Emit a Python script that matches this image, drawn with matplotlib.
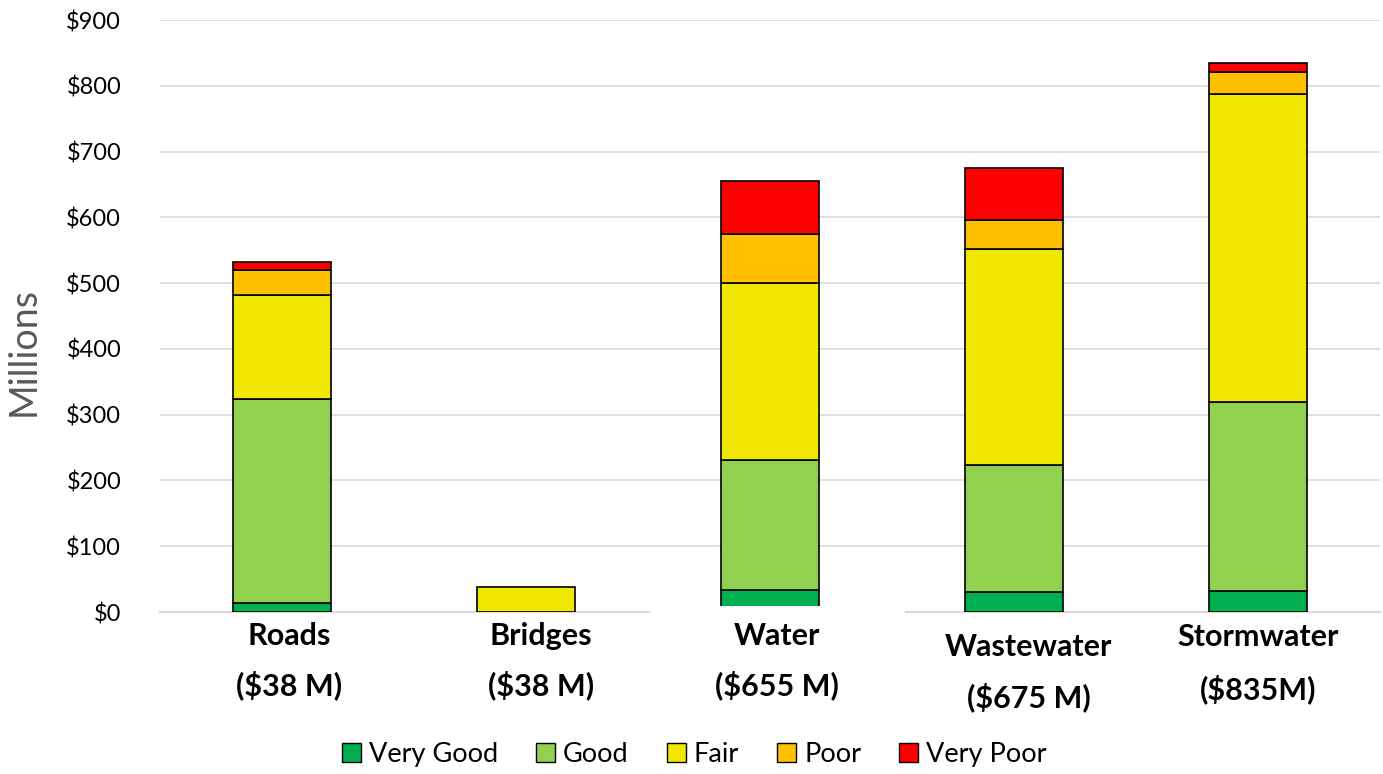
import numpy as np
import matplotlib.pyplot as plt
from matplotlib.patches import Patch, Rectangle

# asset classes and their condition breakdown ($ millions)
assets = ['Roads', 'Bridges', 'Water', 'Wastewater', 'Stormwater']
totals = ['($38 M)', '($38 M)', '($655 M)', '($675 M)', '($835M)']
conditions = ['Very Good', 'Good', 'Fair', 'Poor', 'Very Poor']

very_good = [14, 0, 33, 30, 32]
good = [310, 0, 198, 193, 287]
fair = [158, 38, 269, 329, 469]
poor = [38, 0, 74, 44, 33]
very_poor = [12, 0, 81, 79, 14]

colors = ['#00B050', '#92D050', '#F0E800', '#FFC000', '#FF0000']

plt.rcParams['font.family'] = ['Lato', 'DejaVu Sans']

fig = plt.figure(figsize=(13.83, 7.74), dpi=100)
ax = fig.add_axes([160 / 1383, 162 / 774, 1220 / 1383, 592 / 774])

x = np.arange(len(assets))
bottom = np.zeros(len(assets))
for vals, col in zip([very_good, good, fair, poor, very_poor], colors):
    vals = np.array(vals, dtype=float)
    mask = vals > 0
    ax.bar(x[mask], vals[mask], width=0.4, bottom=bottom[mask], color=col,
           edgecolor='black', linewidth=1.2, zorder=3)
    bottom += vals

ax.set_xlim(-0.5, 4.5)
ax.set_ylim(0, 900)
ax.set_yticks(np.arange(0, 901, 100))
ax.set_yticklabels([f'${v}' for v in range(0, 901, 100)], fontsize=17)
ax.tick_params(axis='y', length=0, pad=28)
ax.tick_params(axis='x', length=0, labelbottom=False)
ax.grid(axis='y', color='#D9D9D9', linewidth=1.2, zorder=0)
for side in ['left', 'right', 'top']:
    ax.spines[side].set_visible(False)
ax.spines['bottom'].set_color('#D9D9D9')
ax.spines['bottom'].set_linewidth(1.5)

ax.set_ylabel('Millions', fontsize=27, color='#595959')
ax.yaxis.set_label_coords(-0.097, 0.44)

# white backing behind the Water label (hides the baseline there)
ax.add_patch(Rectangle((1.508, -60), 1.045, 69, facecolor='white',
                       edgecolor='none', zorder=4, clip_on=False))

# two-line category labels below the axis
label_dx = [0.03, 0.06, 0.03, 0.06, 0.0]
line1_y = [-37, -37, -37, -53, -38]
line2_y = [-111, -111, -111, -130, -118]
for i, (name, tot) in enumerate(zip(assets, totals)):
    ax.text(i + label_dx[i], line1_y[i], name, ha='center', va='center',
            fontsize=22, fontweight='bold', zorder=5, clip_on=False)
    ax.text(i + label_dx[i], line2_y[i], tot, ha='center', va='center',
            fontsize=22, fontweight='bold', zorder=5, clip_on=False)

handles = [Patch(facecolor=c, edgecolor='black', linewidth=1.0) for c in colors]
fig.legend(handles, conditions, loc='center', bbox_to_anchor=(0.502, 0.025),
           ncol=5, frameon=False, fontsize=19.5, handlelength=0.7,
           handleheight=0.7, handletextpad=0.3, columnspacing=1.4)

fig.savefig('out.png', dpi=100)
